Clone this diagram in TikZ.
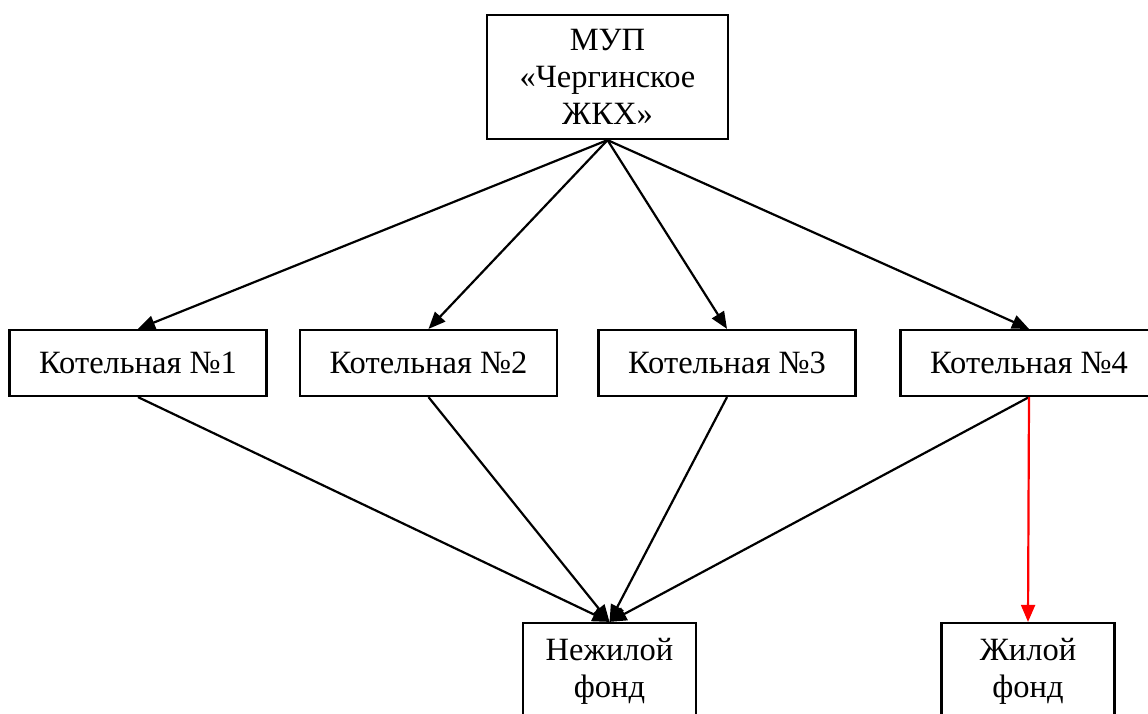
\documentclass[tikz,border=0pt]{standalone}
\usepackage{fontspec}
\setmainfont{Liberation Serif}
\usetikzlibrary{arrows.meta}
\tikzstyle{box} = [rectangle, draw=black, line width=2.2pt, inner sep=0pt, align=center, font=\fontsize{32.5}{37}\selectfont]
\tikzstyle{kotel} = [box, minimum width=257pt, minimum height=66pt]
\tikzstyle{fond} = [box, minimum width=173pt, minimum height=96pt]
\tikzstyle{arrow} = [line width=2.2pt, -{Triangle[length=17pt,width=14pt]}]

\begin{document}
\begin{tikzpicture}[x=1pt, y=-1pt]
\clip (0,0) rectangle (1148,713);
% Nodes
\node (mup) [box, minimum width=241pt, minimum height=124pt] at (607.5,77) {МУП\\«Чергинское\\ЖКХ»};
\node (kot1) [kotel] at (138,363) {Котельная №1};
\node (kot2) [kotel] at (428.5,363) {Котельная №2};
\node (kot3) [kotel] at (727,363) {Котельная №3};
\node (kot4) [kotel] at (1029,363) {Котельная №4};
\node (nezhil) [fond] at (609.5,671) {Нежилой\\фонд};
\node (zhil) [fond] at (1028,671) {Жилой\\фонд};

% Arrows
\draw [arrow] (mup.south) -- (kot1.north);
\draw [arrow] (mup.south) -- (kot2.north);
\draw [arrow] (mup.south) -- (kot3.north);
\draw [arrow] (mup.south) -- (kot4.north);
\draw [arrow] (kot1.south) -- (nezhil.north);
\draw [arrow] (kot2.south) -- (nezhil.north);
\draw [arrow] (kot3.south) -- (nezhil.north);
\draw [arrow] (kot4.south) -- (nezhil.north);
\draw [arrow, red] (kot4.south) -- (zhil.north);
\end{tikzpicture}
\end{document}
